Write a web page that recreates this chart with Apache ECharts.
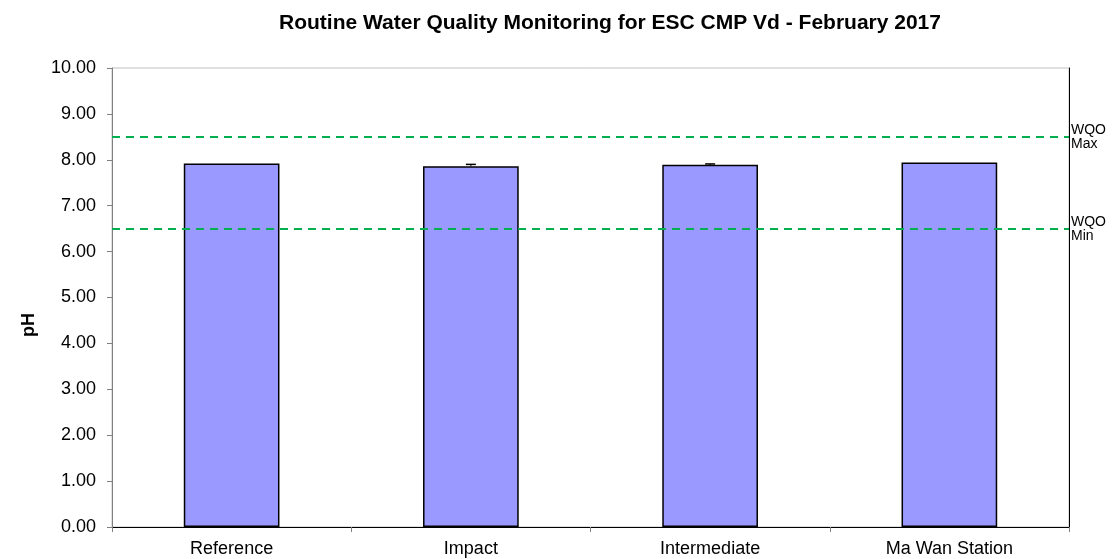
<!DOCTYPE html>
<html><head><meta charset="utf-8">
<script src="https://cdn.jsdelivr.net/npm/echarts@6/dist/echarts.min.js"></script>
<style>html,body{margin:0;padding:0;background:#fff}#c{width:1112px;height:559px}</style>
</head><body><div id="c"></div>
<script>
const categories = ['Reference', 'Impact', 'Intermediate', 'Ma Wan Station'];
const phValues = [7.92, 7.86, 7.89, 7.94];
const phErrors = [0, 0.04, 0.02, 0];
const yTicks = [0, 10, 1];
const wqoMax = 8.5;
const wqoMin = 6.5;

const FONT = '"Liberation Sans", Arial, sans-serif';
const chart = echarts.init(document.getElementById('c'), null, {renderer: 'canvas'});
chart.setOption({
  animation: false,
  backgroundColor: '#fff',
  textStyle: {fontFamily: FONT},
  title: {
    text: 'Routine Water Quality Monitoring for ESC CMP Vd - February 2017',
    left: 605, top: 8, textAlign: 'center',
    textStyle: {fontFamily: FONT, fontSize: 21, fontWeight: 'bold', color: '#000'}
  },
  graphic: [{
    type: 'text', left: 20, top: 313, rotation: Math.PI / 2,
    style: {text: 'pH', font: 'bold 18px "Liberation Sans", Arial, sans-serif', fill: '#000'}
  }],
  grid: {left: 112, right: 43, top: 68, bottom: 32, show: true, borderColor: '#c0c0c0', borderWidth: 1},
  xAxis: {
    type: 'category', data: categories,
    axisLine: {lineStyle: {color: '#000', width: 1}},
    axisTick: {show: true, length: 5, lineStyle: {color: '#808080'}},
    axisLabel: {fontFamily: FONT, fontSize: 18, color: '#000', margin: 13}
  },
  yAxis: [{
    type: 'value', min: yTicks[0], max: yTicks[1], interval: yTicks[2],
    axisLine: {show: true, lineStyle: {color: '#808080'}},
    axisTick: {show: true, length: 5, lineStyle: {color: '#808080'}},
    axisLabel: {formatter: v => v.toFixed(2), fontFamily: FONT, fontSize: 18, color: '#000', margin: 16},
    splitLine: {show: false}
  }, {
    type: 'value', min: yTicks[0], max: yTicks[1], interval: yTicks[2], position: 'right',
    axisLine: {show: true, lineStyle: {color: '#000'}},
    axisTick: {show: false}, axisLabel: {show: false}, splitLine: {show: false}
  }],
  series: [{
    type: 'bar', data: phValues, barWidth: '40%',
    itemStyle: {color: '#9999ff', borderColor: '#000', borderWidth: 1.5},
    markLine: {
      symbol: 'none', silent: true,
      lineStyle: {color: '#00b050', type: [8, 6], width: 2},
      label: {position: 'end', distance: 2, fontFamily: FONT, fontSize: 14, color: '#000', lineHeight: 14, align: 'left', padding: [14, 0, 0, 0]},
      data: [
        {yAxis: wqoMax, label: {formatter: 'WQO\nMax'}},
        {yAxis: wqoMin, label: {formatter: 'WQO\nMin'}}
      ]
    }
  }, {
    type: 'custom',
    data: phValues.map((v, i) => [i, v, phErrors[i]]),
    renderItem: function (params, api) {
      const e = api.value(2);
      if (!e) return null;
      const top = api.coord([api.value(0), api.value(1) + e]);
      const base = api.coord([api.value(0), api.value(1)]);
      const hw = 5;
      return {type: 'group', children: [
        {type: 'line', shape: {x1: top[0], y1: top[1], x2: top[0], y2: base[1]}, style: {stroke: '#000', lineWidth: 1}},
        {type: 'line', shape: {x1: top[0] - hw, y1: top[1], x2: top[0] + hw, y2: top[1]}, style: {stroke: '#000', lineWidth: 1.5}}
      ]};
    },
    z: 5
  }]
});
</script></body></html>
